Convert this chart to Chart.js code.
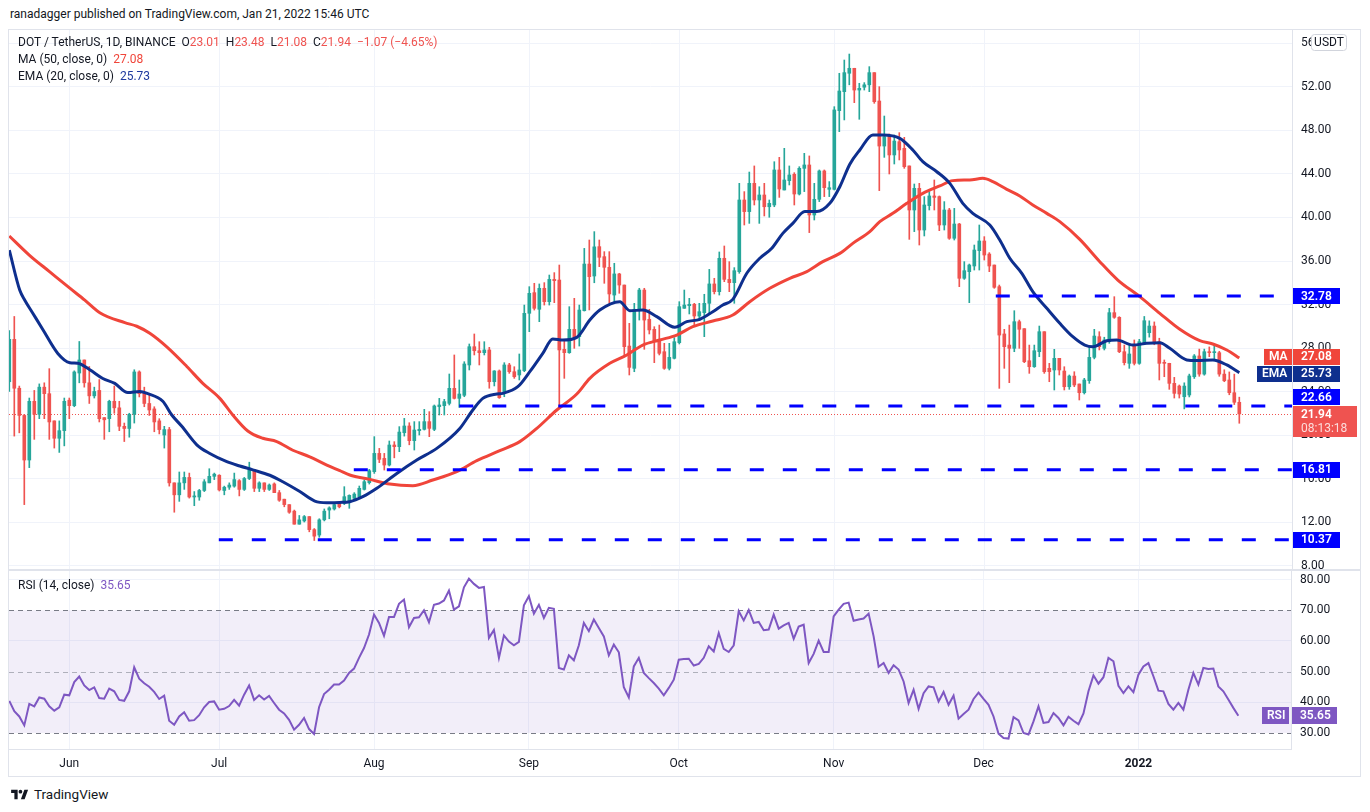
<!DOCTYPE html>
<html>
<head>
<meta charset="utf-8">
<script src="https://cdn.jsdelivr.net/npm/chart.js@4.4.1/dist/chart.umd.min.js"></script>
<style>
html,body{margin:0;padding:0;background:#fff;width:1370px;height:812px;overflow:hidden;font-family:Roboto,"Noto Sans",sans-serif;color:#131722;}
.abs{position:absolute;}
.ln{position:absolute;background:#e0e3eb;}
#hdr{left:10px;top:7px;font-size:12px;white-space:nowrap;color:#131722;}
.lg{position:absolute;left:18px;font-size:12px;white-space:nowrap;color:#131722;line-height:16px;}
.r{color:#ef5350;}
canvas{position:absolute;}
#foot{left:10px;top:786px;font-size:13.5px;display:flex;align-items:center;gap:5px;color:#131722;}
</style>
</head>
<body>
<div id="hdr" class="abs">ranadagger published on TradingView.com, Jan 21, 2022 15:46 UTC</div>

<div class="ln" style="left:8px;top:29px;width:1353px;height:1px"></div>
<div class="ln" style="left:8px;top:29px;width:1px;height:748px"></div>
<div class="ln" style="left:1360px;top:29px;width:1px;height:748px"></div>
<div class="ln" style="left:8px;top:776px;width:1353px;height:1px"></div>
<div class="ln" style="left:8px;top:569px;width:1353px;height:2px"></div>

<canvas id="main" width="1352" height="539" style="left:9px;top:30px;width:1352px;height:539px"></canvas>
<canvas id="rsiC" width="1351" height="205" style="left:9px;top:571px;width:1351px;height:205px"></canvas>

<div class="lg" style="top:34px" id="lg1"></div>
<div class="lg" style="top:51px" id="lg2"></div>
<div class="lg" style="top:68px" id="lg3"></div>
<div class="lg" style="top:577px" id="lg4"></div>

<div id="foot" class="abs">
<svg width="19" height="13" viewBox="0 0 36 28"><path d="M14 24H7V11H0V4h14v20zM29 24h-8l7.5-20h8L29 24z" fill="#131722"/><circle cx="20" cy="8" r="4" fill="#131722"/></svg>
<span>TradingView</span>
</div>

<script>
// ---------------- DATA ----------------
// day index 0 = 2021-05-20, one candle per day up to 2022-01-21 (index 246)
const opens = [24.9,28.8,24.3,21.8,17.7,23.1,21.9,24.4,23.8,21.3,
19.7,20.4,23.2,22.7,25.7,26.9,24.8,23.6,24.1,21.6,
21.5,23.1,22.5,20.8,20.6,21.9,25.8,23.9,22.9,22.4,
21.3,20.0,20.5,15.6,14.5,15.6,16.1,14.3,14.3,14.9,
15.6,16.2,16.3,14.9,15.2,15.3,15.8,15.0,16.0,16.8,
15.1,15.6,15.0,15.5,14.7,14.1,13.6,13.0,11.8,12.1,
12.5,11.3,10.8,12.2,13.1,13.2,13.7,13.7,13.9,14.18,
14.33,15.0,15.62,16.63,18.31,17.85,17.24,19.08,18.93,20.21,
20.83,19.48,20.40,20.52,21.23,20.52,22.61,22.70,22.91,24.29,
23.37,23.65,26.44,28.12,27.75,27.57,27.82,24.90,25.89,23.83,
26.44,25.82,25.52,25.92,31.19,33.09,31.56,33.49,32.26,34.31,
34.25,27.88,27.57,29.72,29.04,31.43,35.72,34.62,37.32,36.40,
35.42,32.87,34.81,33.79,28.18,26.13,31.49,33.33,30.64,29.72,
28.74,27.66,26.13,27.05,28.49,31.65,31.89,32.02,30.94,31.25,
32.11,33.89,33.18,36.25,34.31,34.01,35.02,41.61,40.54,43.14,
41.61,42.07,40.99,41.15,44.37,42.53,43.39,43.97,42.16,44.52,
44.83,40.23,41.67,44.28,42.59,42.59,49.82,51.57,53.26,53.72,
51.72,51.98,52.2,53.32,50.71,46.57,47.5,45.75,46.97,46.36,
44.74,40.69,42.68,38.85,41.09,41.98,41.92,39.31,40.69,38.09,
39.40,34.41,35.02,35.54,36.95,37.84,36.64,35.63,33.64,29.29,
28.27,27.97,30.42,29.78,26.83,26.28,27.66,29.50,26.13,25.98,
27.05,25.88,24.44,25.42,24.69,23.89,25.0,27.14,29.04,27.97,
28.58,31.25,30.82,27.66,26.59,28.27,26.59,28.49,29.41,30.02,
28.58,26.65,26.59,24.75,24.5,23.52,23.68,25.36,27.27,25.6,
27.66,27.57,27.57,25.6,25.06,23.89,23.01];

const highs = [29.6,30.9,24.5,21.9,23.4,24.1,24.7,24.8,26.1,21.3,
21.3,23.4,23.4,25.9,28.6,26.9,26.3,24.4,25.1,21.6,
23.2,24.5,23.1,21.1,22.0,26.0,25.9,24.4,23.7,22.6,
21.5,20.8,20.7,15.6,16.6,16.6,16.5,14.8,15.0,15.9,
16.9,16.5,16.35,15.3,15.6,16.5,15.9,16.1,17.5,16.8,
15.7,15.6,15.5,15.6,14.9,14.1,13.6,13.1,12.6,12.6,
12.5,11.4,12.3,13.2,13.4,13.8,13.7,15.25,14.5,14.7,
15.31,15.86,16.84,19.85,18.77,18.31,19.45,19.39,20.77,21.53,
21.13,21.23,21.23,22.36,22.15,22.76,23.37,23.28,25.61,27.36,
25.06,26.74,28.37,29.29,28.58,28.58,28.06,25.92,25.98,26.65,
26.59,26.28,27.45,31.95,33.64,33.95,33.89,34.01,34.71,34.93,
35.63,28.80,31.80,32.57,31.95,37.16,37.93,38.70,37.93,36.86,
36.86,35.79,34.87,33.79,30.27,32.11,33.49,33.49,31.56,29.96,
30.11,28.43,28.43,28.95,32.26,33.33,32.57,32.11,32.11,32.94,
35.23,34.41,36.83,37.38,35.94,35.39,43.14,42.38,44.18,44.74,
42.83,43.14,41.61,45.13,45.53,46.36,44.74,44.12,44.67,45.90,
45.66,43.14,44.37,44.37,43.30,50.19,53.26,54.48,55.03,53.72,
52.34,52.4,53.87,53.32,52.03,49.33,47.68,47.59,47.8,47.37,
44.74,43.08,43.14,41.92,42.38,43.45,41.98,41.46,40.84,40.84,
39.46,35.94,35.72,37.47,39.31,38.24,36.77,35.63,33.79,29.72,
30.11,31.43,30.57,29.78,28.27,28.27,30.02,29.50,26.59,27.88,
27.05,26.28,25.52,25.82,24.69,25.21,28.1,29.72,29.5,28.99,
31.65,32.72,30.88,28.27,28.27,28.74,28.8,30.9,30.5,30.4,
28.9,26.9,26.6,25.3,24.6,24.8,25.6,27.4,27.9,27.9,
28.1,28.3,27.7,26.0,25.8,25.6,23.48];

const lows = [24.0,19.9,20.2,13.6,17.0,19.6,21.5,21.5,19.6,18.8,
18.4,19.0,21.5,22.6,24.8,24.4,22.9,23.4,21.2,19.6,
20.3,22.0,20.4,19.4,19.8,21.1,23.5,22.6,21.8,20.3,
20.1,18.8,15.3,12.9,13.9,15.0,14.2,13.5,14.0,14.8,
15.6,15.9,14.85,14.5,15.0,15.2,14.4,14.9,15.9,14.8,
14.8,14.8,14.9,14.7,13.9,13.4,12.8,11.8,11.8,12.0,
11.1,10.3,10.6,12.1,12.3,13.1,13.3,13.6,13.26,14.02,
14.18,14.94,15.49,16.47,17.46,16.78,17.15,17.9,18.47,19.9,
19.1,18.62,20.0,20.46,19.85,20.4,21.84,21.84,22.76,23.31,
22.54,23.52,25.98,27.36,26.44,27.36,24.3,24.51,23.37,23.52,
25.67,25.21,25.06,25.82,29.50,31.49,30.42,31.95,31.95,32.17,
22.61,25.21,27.51,27.97,28.18,31.4,31.5,34.0,35.48,33.95,
32.11,32.11,33.03,27.26,25.52,25.82,30.57,27.88,29.29,26.65,
27.36,26.04,25.98,26.99,28.37,31.65,31.13,29.96,30.57,29.04,
31.13,32.97,32.87,34.10,33.18,32.11,34.87,39.31,39.46,41.15,
39.46,40.14,40.02,40.99,41.85,42.53,42.99,41.15,42.07,42.38,
38.61,39.77,41.46,41.92,41.92,42.53,47.89,48.97,52.2,50.56,
49.03,51.72,51.57,50.5,42.47,45.53,44.0,44.92,45.29,44.52,
37.99,38.7,37.47,38.3,40.69,40.69,38.79,38.85,37.99,37.93,
33.64,34.31,32.17,35.17,35.17,36.09,35.02,33.49,24.29,26.13,
24.81,27.66,27.97,26.65,25.67,26.22,27.2,25.67,24.9,24.14,
25.52,24.14,24.2,24.44,23.22,23.77,24.75,27.0,27.82,27.82,
28.43,30.73,27.57,26.44,26.13,26.44,26.5,28.3,29.0,28.3,
25.06,25.36,24.2,23.4,23.4,22.4,23.5,25.2,25.4,25.5,
27.2,27.0,25.4,24.9,23.7,22.8,21.08];

const closes = [28.8,24.3,21.8,17.7,23.1,21.9,24.4,23.8,21.2,19.7,
20.4,23.1,22.7,25.8,26.9,24.8,23.6,24.0,21.5,21.4,
23.1,22.5,20.8,20.6,21.9,25.8,23.8,22.9,22.3,21.2,
20.5,20.5,15.6,14.5,15.6,16.1,14.3,14.4,14.9,15.7,
16.2,16.4,14.95,15.2,15.4,15.9,15.0,16.0,16.8,15.1,
15.6,15.0,15.4,14.7,14.0,13.6,12.9,11.8,12.2,12.5,
11.3,10.7,12.2,13.0,13.3,13.6,13.4,14.33,14.45,14.57,
15.10,15.71,16.72,18.31,17.76,17.24,19.08,18.93,20.27,20.83,
19.48,20.46,20.52,21.23,20.61,22.67,22.76,23.07,24.29,23.37,
23.77,26.53,28.12,27.75,27.57,27.82,24.90,25.89,23.43,26.44,
25.82,25.36,25.98,31.19,33.03,31.65,33.49,32.26,34.31,34.19,
27.82,27.57,29.72,28.98,31.49,35.72,34.56,37.3,36.34,35.42,
32.97,34.81,33.79,28.12,26.22,31.56,33.33,30.57,29.66,28.58,
27.51,26.13,27.14,28.58,31.80,31.95,32.02,30.94,31.34,32.11,
33.89,33.18,36.25,34.31,34.01,35.11,41.61,40.54,43.14,41.61,
42.07,40.99,41.30,44.37,42.62,43.45,43.91,42.16,44.52,44.83,
40.23,41.67,44.28,42.74,42.74,49.89,51.63,53.32,53.72,51.72,
51.88,52.2,53.32,50.65,46.57,47.43,45.75,47.03,46.21,44.67,
40.69,42.68,38.85,41.15,41.98,41.85,39.31,40.69,38.09,39.40,
34.41,35.11,35.63,37.01,37.84,36.55,35.54,33.58,29.19,28.12,
27.97,30.42,29.72,26.74,26.28,27.75,29.50,25.82,25.82,27.05,
25.98,24.44,25.42,24.6,23.89,25.06,27.14,29.1,28.12,28.74,
31.25,30.82,27.66,26.65,27.45,26.59,28.58,30.51,30.02,28.58,
26.59,26.59,24.75,23.83,23.77,24.5,25.43,27.27,25.6,27.66,
27.57,27.66,25.6,24.99,23.89,23.01,21.94];

// MA(50) and EMA(20) at these day positions
const maDays = [0,4.1,8.1,12.1,15.1,18.1,23.1,25.5,28.1,31.5,35.5,38.7,42.1,44.7,47.7,50.7,53.5,56.7,60.1,63.5,66.1,68.1,72.1,76.1,80.7,84.7,89.5,93.5,98.1,102.1,105.5,109.5,113.5,116.1,120.1,123.5,126.7,130.1,133.5,136.7,140.7,144.7,148.1,152.1,156.1,159.5,162.7,166.1,168.7,172.1,174.1,176.7,179.5,182.7,186.1,188.7,192.1,194.7,196.7,199.5,202.1,204.7,207.5,210.1,214.1,218.1,221.7,226.1,230.1,234.1,238.1,240.7,243.5,246];
const maValues = [38.3,36.5,35.0,33.5,32.4,31.25,30.33,30.0,29.35,28.1,26.3,24.75,23.37,21.84,20.37,19.7,19.4,18.6,18.0,17.24,16.72,16.32,15.92,15.49,15.34,15.86,16.63,17.64,18.56,19.39,20.61,22.3,23.77,25.21,26.59,27.36,28.27,28.74,29.19,29.96,30.48,31.03,32.26,33.49,34.41,35.02,35.94,36.7,37.62,38.7,39.62,40.38,41.3,42.22,42.9,43.39,43.45,43.6,43.3,42.59,41.98,41.15,40.38,39.62,37.99,35.94,34.25,32.72,31.19,29.72,28.67,28.37,27.82,27.08];
const emaDays = [0,2.1,3.1,4.7,6.7,9.7,12.1,13.7,16.1,18.7,21.1,23.7,26.1,27.7,30.7,32.5,34.5,37.5,40.1,43.5,46.1,48.7,52.1,54.7,58.1,61.1,63.5,66.1,68.1,70.7,73.5,77.5,81.5,85.5,90.1,92.7,94.7,97.5,98.7,101.7,104.1,106.7,108.7,110.7,113.5,116.1,118.1,122.1,124.1,126.7,129.5,133.1,135.5,138.1,140.7,142.7,144.7,147.5,150.1,152.5,154.7,156.7,159.1,161.5,164.1,166.1,168.1,170.1,172.7,174.7,178.1,180.7,182.7,185.5,188.1,190.7,192.7,196.1,198.1,200.1,202.5,204.7,207.5,210.1,212.7,215.1,216.7,219.5,221.5,224.7,227.5,230.1,232.1,235.5,237.5,240.7,243.5,246];
const emaValues = [37.0,33.3,32.4,31.2,29.7,27.5,26.65,26.6,26.0,25.2,24.75,23.9,24.0,23.8,23.1,21.84,20.8,19.1,18.3,17.55,17.15,16.8,16.3,15.7,14.8,13.93,13.78,13.8,13.87,14.33,15.1,16.47,17.7,18.77,20.6,22.3,23.37,23.77,23.83,24.44,25.82,27.51,28.83,28.73,28.98,30.57,31.49,32.26,31.43,31.49,30.88,29.9,30.42,30.64,31.34,31.95,32.47,34.87,36.25,37.17,38.54,39.46,40.54,40.54,41.3,42.83,44.9,46.21,47.59,47.59,47.28,46.21,45.13,44.21,43.14,41.3,40.38,39.31,37.93,36.25,34.87,33.18,31.65,30.27,29.04,28.27,28.12,28.67,28.74,28.27,28.43,28.49,27.97,26.9,26.84,26.9,26.44,25.73];

// RSI(14), one value per day
const rsi = [40.5,37.1,35.4,32.5,39.5,38.7,41.6,41.2,38.7,37.3,
38.4,42.5,42.3,46.6,48.4,45.5,44.0,44.9,41.4,41.2,
44.5,43.6,40.8,40.5,43.6,51.4,47.7,46.2,45.1,43.4,
41.1,42.2,34.0,32.7,35.4,36.8,34.0,34.2,35.8,38.4,
40.1,40.3,37.6,37.9,38.8,40.8,38.9,42.5,45.5,40.8,
42.3,40.9,42.1,39.8,37.6,36.4,34.3,31.1,32.7,34.9,
31.3,29.7,38.4,42.7,44.1,45.8,45.8,47.1,49.6,51.0,
54.5,57.7,62.1,68.6,65.9,61.7,67.8,67.8,72.1,73.5,
64.5,67.5,67.7,70.0,66.1,71.8,72.2,73.2,76.4,70.2,
71.3,77.5,80.3,78.6,77.3,77.6,61.0,63.6,54.5,61.8,
59.8,58.6,59.7,71.6,74.6,68.9,71.8,67.5,70.8,70.5,
51.2,50.7,55.3,53.7,58.6,65.9,63.2,67.0,64.2,61.5,
55.3,58.8,56.3,44.9,41.6,51.7,54.5,49.6,47.9,46.3,
44.5,42.3,44.7,47.4,53.9,54.1,54.2,52.0,52.5,54.5,
58.3,56.6,62.6,57.4,56.4,58.6,69.7,66.7,70.1,65.9,
66.2,63.5,63.7,68.6,64.0,65.1,65.9,60.7,64.7,65.3,
52.8,55.8,60.1,56.4,56.4,68.0,70.2,72.1,72.5,66.6,
67.0,67.3,68.9,61.5,51.6,52.8,49.6,52.1,50.7,46.8,
39.8,44.1,37.9,43.0,45.2,44.9,40.3,43.4,39.2,42.2,
34.7,36.2,37.6,41.1,43.2,41.1,39.2,35.4,29.8,28.4,
28.2,35.2,34.1,30.0,29.5,33.8,38.7,33.3,33.6,36.5,
34.9,32.5,35.3,34.0,32.9,36.4,43.6,48.8,46.1,48.2,
54.5,53.4,45.4,43.0,45.2,43.3,49.0,51.7,52.8,48.5,
43.8,43.6,39.5,37.6,39.8,37.6,44.1,49.6,45.8,51.2,
50.9,51.0,45.2,43.6,40.9,38.2,35.65];

// horizontal levels drawn by the author and the day where each begins
const levelValues = [32.78, 22.66, 16.81, 10.37];
const levelStartDays = [197.3, 90, 68.9, 41.9];

// axes
const monthStarts = [12, 42, 73, 104, 134, 165, 195, 226];
const monthLabels = ['Jun', 'Jul', 'Aug', 'Sep', 'Oct', 'Nov', 'Dec', '2022'];
const priceTicks = [8, 12, 16, 20, 24, 28, 32, 36, 40, 44, 48, 52, 56];
const rsiTicks = [30, 40, 50, 60, 70, 80];
const rsiBand = [30, 70];
const rsiMid = 50;

// ---------------- RENDER ----------------
const X_MIN = -0.06, X_MAX = 256.54;
const Y_MIN = 7.68, Y_MAX = 57.24;
const R_MIN = 24.8, R_MAX = 82.8;
const FONT = 'Roboto';
const UP = '#26a69a', DN = '#ef5350';
const MA_COL = '#f0453a', EMA_COL = '#0e2f8e', LVL_COL = '#0000ff', RSI_COL = '#7e57c2';
Chart.defaults.font.family = FONT;

const N = closes.length;
const days = closes.map((_, i) => i);
const candleCols = days.map(i => closes[i] >= opens[i] ? UP : DN);
const last = N - 1;

// legend texts
const chg = closes[last] - closes[last - 1];
const fmt = v => v.toFixed(2).replace('-', '\u2212');
document.getElementById('lg1').innerHTML =
  'DOT / TetherUS, 1D, BINANCE&nbsp;&nbsp;O<span class="r">' + fmt(opens[last]) +
  '</span>&nbsp;&nbsp;H<span class="r">' + fmt(highs[last]) +
  '</span>&nbsp;&nbsp;L<span class="r">' + fmt(lows[last]) +
  '</span>&nbsp;&nbsp;C<span class="r">' + fmt(closes[last]) +
  '</span>&nbsp;&nbsp;<span class="r">' + fmt(chg) + ' (' + fmt(chg / closes[last - 1] * 100) + '%)</span>';
document.getElementById('lg2').innerHTML = 'MA (50, close, 0)&nbsp;&nbsp;<span style="color:' + MA_COL + '">' + fmt(maValues[maValues.length - 1]) + '</span>';
document.getElementById('lg3').innerHTML = 'EMA (20, close, 0)&nbsp;&nbsp;<span style="color:#1f3a9e">' + fmt(emaValues[emaValues.length - 1]) + '</span>';
document.getElementById('lg4').innerHTML = 'RSI (14, close)&nbsp;&nbsp;<span style="color:' + RSI_COL + '">' + fmt(rsi[last]) + '</span>';

function tag(ctx, x, yc, w, h, bg, txt, tx, color, font) {
  ctx.fillStyle = bg;
  ctx.fillRect(x, Math.round(yc - h / 2), w, h);
  ctx.fillStyle = color;
  ctx.font = font;
  ctx.textBaseline = 'middle';
  ctx.textAlign = 'left';
  ctx.fillText(txt, tx, yc + 0.5);
}

const mainOverlay = {
  id: 'mainOverlay',
  beforeDatasetsDraw(chart) {
    const { ctx, chartArea: a, scales: { y } } = chart;
    const py = Math.round(y.getPixelForValue(closes[last])) + 0.5;
    ctx.save();
    ctx.strokeStyle = DN; ctx.lineWidth = 1; ctx.setLineDash([1, 2]);
    ctx.beginPath(); ctx.moveTo(a.left, py); ctx.lineTo(a.right, py); ctx.stroke();
    ctx.restore();
  },
  afterDraw(chart) {
    const { ctx, chartArea: a, scales: { y } } = chart;
    const ax = y.left;
    const f = '600 12px ' + FONT;
    ctx.save();
    const pY = y.getPixelForValue(closes[last]);
    const pTop = Math.round(pY) - 8, pBot = pTop + 31;
    levelValues.forEach(v => {
      let yc = y.getPixelForValue(v);
      if (yc + 8 > pTop && yc - 8 < pBot) yc = pTop - 9;
      tag(ctx, ax + 1, yc, 47, 16, LVL_COL, v.toFixed(2), ax + 9, '#ffffff', f);
    });
    let yM = y.getPixelForValue(maValues[maValues.length - 1]);
    let yE = y.getPixelForValue(emaValues[emaValues.length - 1]);
    if (Math.abs(yE - yM) < 17) { const m = (yM + yE) / 2; yM = m - 8.5; yE = m + 8.5; }
    tag(ctx, ax - 28, yM, 28, 16, MA_COL, 'MA', ax - 23, '#ffffff', f);
    tag(ctx, ax + 1, yM, 47, 16, MA_COL, maValues[maValues.length - 1].toFixed(2), ax + 9, '#ffffff', f);
    tag(ctx, ax - 35, yE, 35, 16, EMA_COL, 'EMA', ax - 30, '#ffffff', f);
    tag(ctx, ax + 1, yE, 47, 16, EMA_COL, emaValues[emaValues.length - 1].toFixed(2), ax + 9, '#ffffff', f);
    // current price
    ctx.fillStyle = DN;
    ctx.fillRect(ax + 1, pTop, 64, 31);
    ctx.fillStyle = '#ffffff'; ctx.font = f; ctx.textBaseline = 'middle';
    ctx.fillText(closes[last].toFixed(2), ax + 9, pTop + 9);
    ctx.fillStyle = 'rgba(255,255,255,0.8)'; ctx.font = '12px ' + FONT;
    ctx.fillText('08:13:18', ax + 9, pTop + 23);
    // currency box
    const bx = ax + 19, by = a.top + 4;
    ctx.beginPath();
    if (ctx.roundRect) ctx.roundRect(bx + 0.5, by + 0.5, 35, 16, 3); else ctx.rect(bx + 0.5, by + 0.5, 35, 16);
    ctx.fillStyle = '#ffffff'; ctx.fill();
    ctx.strokeStyle = '#d1d4dc'; ctx.lineWidth = 1; ctx.stroke();
    ctx.fillStyle = '#131722'; ctx.font = '12px ' + FONT; ctx.textAlign = 'center';
    ctx.fillText('USDT', bx + 18, by + 9);
    ctx.restore();
  }
};

const rsiOverlay = {
  id: 'rsiOverlay',
  beforeDatasetsDraw(chart) {
    const { ctx, chartArea: a, scales: { y } } = chart;
    const yHi = y.getPixelForValue(rsiBand[1]), yLo = y.getPixelForValue(rsiBand[0]);
    const yMid = y.getPixelForValue(rsiMid);
    ctx.save();
    ctx.fillStyle = 'rgba(126,87,194,0.1)';
    ctx.fillRect(a.left, yHi, a.right - a.left, yLo - yHi);
    ctx.lineWidth = 1; ctx.setLineDash([5, 4]);
    [[yHi, '#787b86'], [yLo, '#787b86'], [yMid, 'rgba(120,123,134,0.55)']].forEach(([py, c]) => {
      ctx.strokeStyle = c;
      ctx.beginPath(); ctx.moveTo(a.left, Math.round(py) + 0.5); ctx.lineTo(a.right, Math.round(py) + 0.5); ctx.stroke();
    });
    ctx.restore();
  },
  afterDraw(chart) {
    const { ctx, scales: { y } } = chart;
    const ax = y.left;
    const f = '600 12px ' + FONT;
    const yc = y.getPixelForValue(rsi[last]);
    ctx.save();
    tag(ctx, ax - 29, yc, 27, 17, RSI_COL, 'RSI', ax - 24, '#ffffff', f);
    tag(ctx, ax + 1, yc, 45, 17, RSI_COL, rsi[last].toFixed(2), ax + 9, '#ffffff', f);
    ctx.restore();
  }
};

const common = {
  responsive: false, animation: false, events: [],
  layout: { padding: 0, autoPadding: false },
  plugins: { legend: { display: false }, tooltip: { enabled: false } }
};
const tickFont = { family: FONT, size: 12 };

new Chart(document.getElementById('main'), {
  type: 'bar',
  data: {
    datasets: [
      ...levelValues.map((v, k) => ({
        type: 'line', data: [{ x: levelStartDays[k], y: v }, { x: X_MAX, y: v }],
        borderColor: LVL_COL, borderWidth: 3, borderDash: [14, 19], pointRadius: 0, order: 1
      })),
      { type: 'line', data: emaDays.map((d, k) => ({ x: d, y: emaValues[k] })), borderColor: EMA_COL, borderWidth: 3,
        pointRadius: 0, cubicInterpolationMode: 'monotone', order: 3 },
      { type: 'line', data: maDays.map((d, k) => ({ x: d, y: maValues[k] })), borderColor: MA_COL, borderWidth: 3,
        pointRadius: 0, cubicInterpolationMode: 'monotone', order: 4 },
      { data: days.map(i => ({ x: i, y: [opens[i], closes[i]] })), backgroundColor: candleCols,
        barThickness: 3, grouped: false, minBarLength: 1, order: 8 },
      { data: days.map(i => ({ x: i, y: [lows[i], highs[i]] })), backgroundColor: candleCols,
        barThickness: 1, grouped: false, order: 9 }
    ]
  },
  options: Object.assign({}, common, {
    scales: {
      x: { type: 'linear', min: X_MIN, max: X_MAX, offset: false,
        grid: { color: '#f0f3fa', drawTicks: false, offset: false }, border: { display: false },
        ticks: { display: false },
        afterBuildTicks: s => { s.ticks = monthStarts.map(v => ({ value: v })); },
        afterFit: s => { s.height = 0; s.paddingLeft = 0; s.paddingRight = 0; } },
      y: { position: 'right', min: Y_MIN, max: Y_MAX,
        grid: { color: '#f0f3fa', drawTicks: false }, border: { display: true, color: '#e0e3eb' },
        ticks: { padding: 9, color: '#131722', font: tickFont, callback: v => v.toFixed(2) },
        afterBuildTicks: s => { s.ticks = priceTicks.map(v => ({ value: v })); },
        afterFit: s => { s.width = 69; s.paddingTop = 0; s.paddingBottom = 0; } }
    }
  }),
  plugins: [mainOverlay]
});

new Chart(document.getElementById('rsiC'), {
  type: 'line',
  data: { datasets: [{ data: days.map(i => ({ x: i, y: rsi[i] })), borderColor: RSI_COL, borderWidth: 2, pointRadius: 0, tension: 0 }] },
  options: Object.assign({}, common, {
    scales: {
      x: { type: 'linear', min: X_MIN, max: X_MAX, offset: false,
        grid: { color: '#f0f3fa', drawTicks: false }, border: { display: true, color: '#e0e3eb' },
        ticks: { padding: 8, color: '#131722', autoSkip: false, maxRotation: 0,
          font: c => ({ family: FONT, size: 12, weight: (c.tick && c.tick.value === monthStarts[monthStarts.length - 1]) ? 'bold' : 'normal' }),
          callback: v => monthLabels[monthStarts.indexOf(v)] },
        afterBuildTicks: s => { s.ticks = monthStarts.map(v => ({ value: v })); },
        afterFit: s => { s.height = 27; s.paddingLeft = 0; s.paddingRight = 0; } },
      y: { position: 'right', min: R_MIN, max: R_MAX,
        grid: { color: c => (c.tick && (rsiBand.includes(c.tick.value) || c.tick.value === rsiMid)) ? 'rgba(0,0,0,0)' : '#f0f3fa', drawTicks: false },
        border: { display: true, color: '#e0e3eb' },
        ticks: { padding: 9, color: '#131722', font: tickFont, callback: v => v.toFixed(2) },
        afterBuildTicks: s => { s.ticks = rsiTicks.map(v => ({ value: v })); },
        afterFit: s => { s.width = 69; s.paddingTop = 0; s.paddingBottom = 0; } }
    }
  }),
  plugins: [rsiOverlay]
});
</script>
</body>
</html>
